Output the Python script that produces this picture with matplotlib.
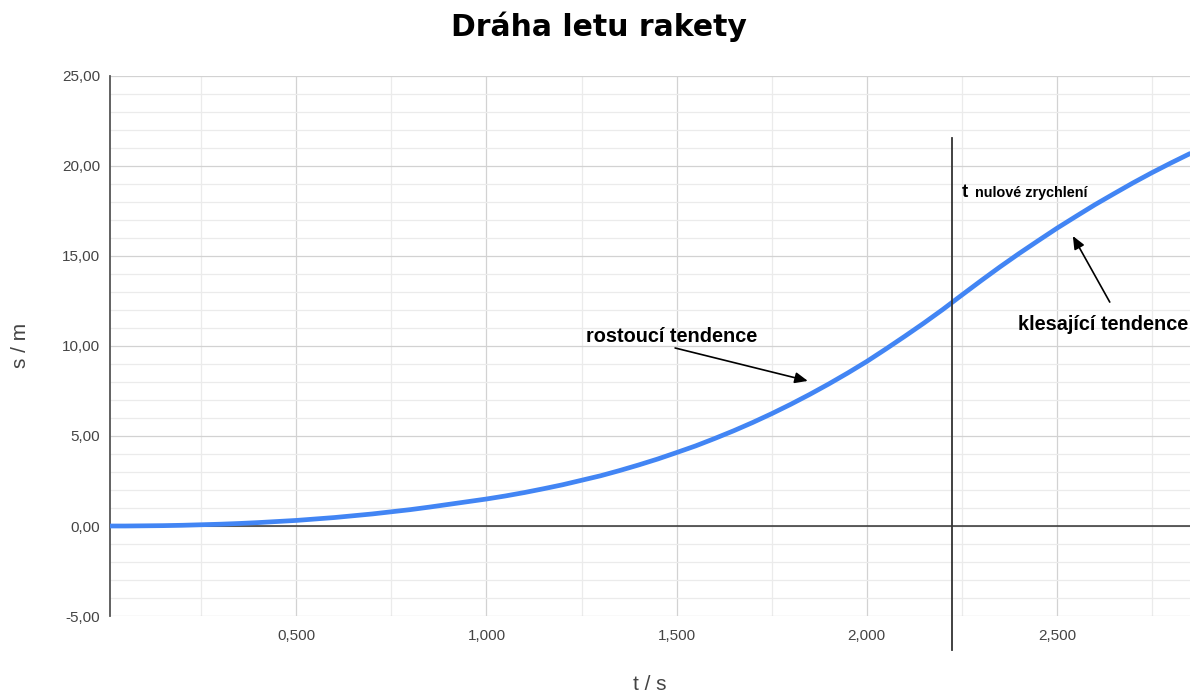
import matplotlib
matplotlib.use('Agg')
import matplotlib.pyplot as plt
from matplotlib.ticker import MultipleLocator

plt.rcParams['font.family'] = ['Liberation Sans', 'DejaVu Sans']

# čas t (s) a dráha s (m)
cas = [0.01, 0.05, 0.10, 0.15, 0.20, 0.25, 0.30, 0.35, 0.40, 0.45,
       0.50, 0.55, 0.60, 0.65, 0.70, 0.75, 0.80, 0.85, 0.90, 0.95,
       1.00, 1.05, 1.10, 1.15, 1.20, 1.25, 1.30, 1.35, 1.40, 1.45,
       1.50, 1.55, 1.60, 1.65, 1.70, 1.75, 1.80, 1.85, 1.90, 1.95,
       2.00, 2.05, 2.10, 2.15, 2.20, 2.25, 2.30, 2.35, 2.40, 2.45,
       2.50, 2.55, 2.60, 2.65, 2.70, 2.75, 2.80, 2.85]
draha = [0.00, 0.00, 0.01, 0.02, 0.04, 0.07, 0.10, 0.14, 0.19, 0.25,
         0.31, 0.39, 0.47, 0.57, 0.67, 0.79, 0.91, 1.05, 1.20, 1.35,
         1.50, 1.67, 1.86, 2.07, 2.29, 2.54, 2.79, 3.08, 3.39, 3.72,
         4.08, 4.45, 4.86, 5.29, 5.75, 6.24, 6.76, 7.31, 7.89, 8.50,
         9.14, 9.83, 10.54, 11.27, 12.03, 12.83, 13.62, 14.39, 15.13, 15.84,
         16.54, 17.20, 17.85, 18.46, 19.06, 19.63, 20.17, 20.69]

t_nulove_zrychleni = 2.224

x_ticks = [0.5, 1.0, 1.5, 2.0, 2.5]
x_tick_labels = ['0,500', '1,000', '1,500', '2,000', '2,500']
y_ticks = [-5, 0, 5, 10, 15, 20, 25]
y_tick_labels = ['-5,00', '0,00', '5,00', '10,00', '15,00', '20,00', '25,00']

W, H = 1202, 695
fig = plt.figure(figsize=(W / 100, H / 100), dpi=100)
ax = fig.add_axes([110 / W, 1 - 616 / H, 1080 / W, 540 / H])

ax.set_xlim(cas[0], cas[-1])
ax.set_ylim(-5, 25)

ax.set_xticks(x_ticks)
ax.set_xticklabels(x_tick_labels)
ax.set_yticks(y_ticks)
ax.set_yticklabels(y_tick_labels)
ax.xaxis.set_minor_locator(MultipleLocator(0.25))
ax.yaxis.set_minor_locator(MultipleLocator(1))
ax.tick_params(which='both', length=0, labelsize=11, labelcolor='#444444')
ax.tick_params(axis='y', pad=7)
ax.tick_params(axis='x', pad=9)

ax.grid(which='major', color='#d2d2d2', lw=0.9, zorder=0)
ax.grid(which='minor', color='#ebebeb', lw=0.9, zorder=0)
ax.set_axisbelow(True)

for side in ['top', 'right', 'bottom']:
    ax.spines[side].set_visible(False)
ax.spines['left'].set_color('#555555')
ax.spines['left'].set_linewidth(1.3)

# nulová osa
ax.axhline(0, color='#333333', lw=1.1, zorder=2)

# dráha rakety
ax.plot(cas, draha, color='#4285f4', lw=3.4, solid_capstyle='round', zorder=3)

# okamžik nulového zrychlení
ax.plot([t_nulove_zrychleni, t_nulove_zrychleni], [21.55, -6.9],
        color='#333333', lw=1.3, clip_on=False, zorder=4)
ax.text(2.250, 18.28, 't', fontsize=13.5, fontweight='bold', va='baseline')
ax.text(2.284, 18.28, 'nulové zrychlení', fontsize=10.4, fontweight='bold', va='baseline')

# popisky s šipkami
sipka = dict(arrowstyle='-|>,head_length=0.7,head_width=0.3', color='black',
             lw=1.2, mutation_scale=11, shrinkA=0, shrinkB=0)
ax.annotate('', xy=(1.845, 8.06), xytext=(1.496, 9.89), arrowprops=sipka)
ax.text(1.262, 10.24, 'rostoucí tendence', fontsize=14.3, fontweight='bold', va='baseline')
ax.annotate('', xy=(2.542, 16.11), xytext=(2.639, 12.44), arrowprops=sipka)
ax.text(2.398, 10.9, 'klesající tendence', fontsize=14.3, fontweight='bold', va='baseline')

fig.text(598.5 / W, 1 - 27 / H, 'Dráha letu rakety', fontsize=21.5, fontweight='bold',
         family='DejaVu Sans', ha='center', va='center')
fig.text(650 / W, 1 - 685 / H, 't / s', fontsize=15, color='#444444', ha='center', va='center')
fig.text(20 / W, 1 - 345 / H, 's / m', fontsize=15, color='#444444', rotation=90,
         ha='center', va='center')

fig.savefig('out.png', dpi=100)
